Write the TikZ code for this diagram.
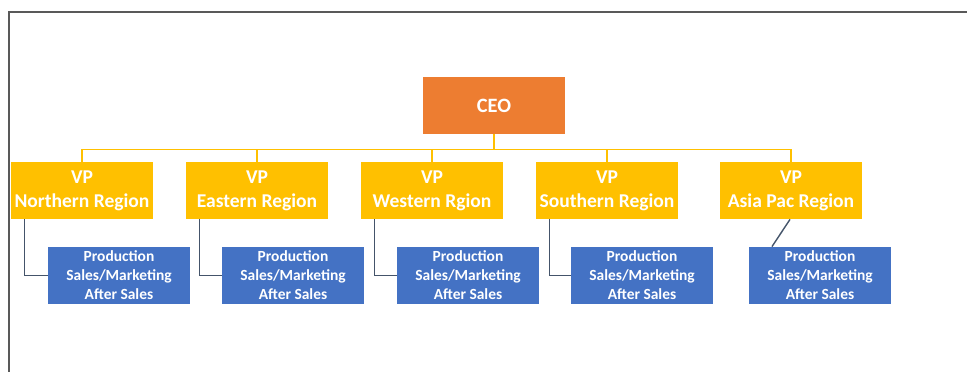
\documentclass[tikz,border=0pt]{standalone}
\usepackage{fontspec}
\setmainfont{Carlito}
\definecolor{ceoorange}{HTML}{ED7D31}
\definecolor{vpgold}{HTML}{FFC000}
\definecolor{subblue}{HTML}{4472C4}
\definecolor{linkgray}{HTML}{44546A}
\definecolor{framegray}{HTML}{595959}
\begin{document}
\begin{tikzpicture}[x=0.025cm, y=-0.025cm,
    box/.style={inner sep=0pt, minimum width=3.55cm, minimum height=1.43cm,
        align=center, text=white, font=\bfseries},
    ceobox/.style={box, fill=ceoorange, font=\bfseries\fontsize{14.5}{17}\selectfont},
    vpbox/.style={box, fill=vpgold, font=\bfseries\fontsize{13.9}{17}\selectfont},
    subbox/.style={box, fill=subblue, font=\bfseries\fontsize{11}{13.5}\selectfont},
    bus/.style={vpgold, line width=1.1pt},
    link/.style={linkgray, line width=1pt}]
    \useasboundingbox (0, 0) rectangle (967, 372);
    \draw[framegray, line width=1.1pt] (9, 372) |- (967, 12);

    \node[ceobox] (ceo) at (494, 105.5) {CEO};

    \node[vpbox] (north) at (82, 190.5) {VP\\Northern Region};
    \node[vpbox] (east) at (257, 190.5) {VP\\Eastern Region};
    \node[vpbox] (west) at (432, 190.5) {VP\\Western Rgion};
    \node[vpbox] (south) at (607, 190.5) {VP\\Southern Region};
    \node[vpbox] (asia) at (791, 190.5) {VP\\Asia Pac Region};

    \node[subbox] (north-sub) at (119, 275.5) {Production\\Sales/Marketing\\After Sales};
    \node[subbox] (east-sub) at (293, 275.5) {Production\\Sales/Marketing\\After Sales};
    \node[subbox] (west-sub) at (468, 275.5) {Production\\Sales/Marketing\\After Sales};
    \node[subbox] (south-sub) at (642, 275.5) {Production\\Sales/Marketing\\After Sales};
    \node[subbox] (asia-sub) at (820, 275.5) {Production\\Sales/Marketing\\After Sales};

    \foreach \vp in {north, east, west, south, asia}
        \draw[bus] (ceo.south) -- ++(0, 15) -| (\vp.north);

    \foreach \vp in {north, east, west, south}
        \draw[link] ([xshift=0.35cm]\vp.south west) |- (\vp-sub.west);
    \draw[link] ([xshift=-0.025cm]asia.south) -- ([xshift=-1.2cm]asia-sub.north);
\end{tikzpicture}
\end{document}
